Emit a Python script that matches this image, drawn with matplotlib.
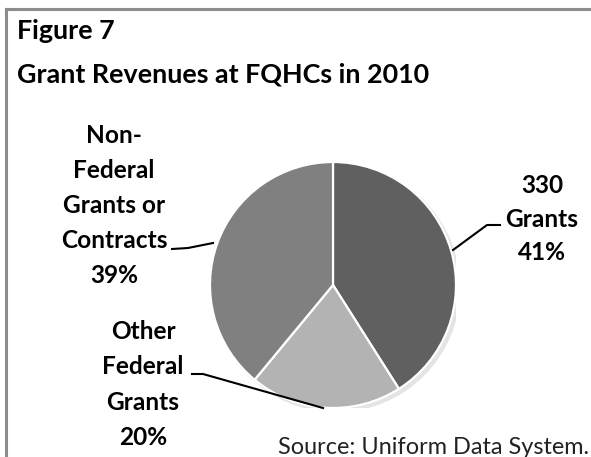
import matplotlib.pyplot as plt
from matplotlib.lines import Line2D
from matplotlib.patches import Circle

plt.rcParams['font.family'] = ['Lato', 'DejaVu Sans']

labels = ['330\nGrants\n41%', 'Other\nFederal\nGrants\n20%', 'Non-\nFederal\nGrants or\nContracts\n39%']
shares = [41, 20, 39]
colors = ['#606060', '#b3b3b3', '#808080']

W, H = 591, 457
fig = plt.figure(figsize=(W / 100, H / 100), dpi=100)
renderer = fig.canvas.get_renderer()


def px(x, y):
    # pixel position (from top-left) to figure fraction
    return x / W, 1 - y / H


def fit_size(s, target_w, weight):
    # font size that makes string s about target_w pixels wide
    t = fig.text(0, 0, s, fontsize=10, fontweight=weight)
    w = t.get_window_extent(renderer).width
    t.remove()
    return 10 * target_w / w


# pie axes: centre (333, 285), radius 123 px
cx, cy, r = 333, 285, 123
ax = fig.add_axes([(cx - r) / W, (H - cy - r) / H, 2 * r / W, 2 * r / H])
ax.add_patch(Circle((0.025, -0.025), 1.01, facecolor='#e4e4e4', edgecolor='none', zorder=0))
ax.pie(shares, colors=colors, startangle=90, counterclock=False,
       wedgeprops=dict(edgecolor='white', linewidth=1.6))
ax.set_xlim(-1.0, 1.0)
ax.set_ylim(-1.0, 1.0)
ax.axis('off')

# frame (top and left edges only visible)
fig.add_artist(Line2D([5.5 / W, 1], [1 - 8.5 / H, 1 - 8.5 / H], color='#8c8c8c', lw=2.2))
fig.add_artist(Line2D([5.5 / W, 5.5 / W], [0, 1 - 8.5 / H], color='#8c8c8c', lw=2.2))

# titles
ts = fit_size('Grant Revenues at FQHCs', 316, 'bold')
fig.text(*px(17, 39), 'Figure 7', fontsize=ts, fontweight='bold', va='baseline')
fig.text(*px(17, 83), 'Grant Revenues at FQHCs in 2010', fontsize=ts, fontweight='bold', va='baseline')

# slice labels, one line at a time: centre x, first baseline, line pitch (px)
ls = fit_size('Contracts', 106, 'bold')
label_pos = [(542, 193, 33.5), (143, 339, 35.3), (114, 143, 35)]
for lab, (x, y0, pitch) in zip(labels, label_pos):
    for i, line in enumerate(lab.split('\n')):
        fig.text(*px(x, y0 + i * pitch), line, fontsize=ls, fontweight='bold',
                 ha='center', va='baseline')

# leader lines
leaders = [
    [(453, 250), (487, 225), (500, 225)],
    [(192, 374), (203, 374), (323, 408)],
    [(172, 249), (188, 248), (213, 243)],
]
for pts in leaders:
    xs = [p[0] / W for p in pts]
    ys = [1 - p[1] / H for p in pts]
    fig.add_artist(Line2D(xs, ys, color='black', lw=1.5))

ss = fit_size('Source: Uniform Data System.', 311, 'normal')
fig.text(*px(278, 454), 'Source: Uniform Data System.', fontsize=ss, va='baseline', color='#222222')

fig.savefig('out.png', dpi=100)
